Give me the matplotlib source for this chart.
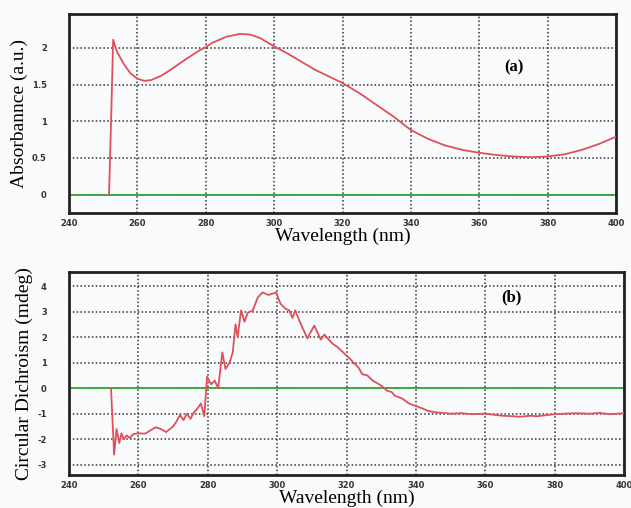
import matplotlib
matplotlib.use('Agg')
import matplotlib.pyplot as plt

# (a) absorbance spectrum
wl_abs = [251.7, 252.3, 252.9, 254.0, 256, 258, 260, 262, 264, 267, 270, 274,
          278, 280, 282, 286, 290, 293, 296, 300, 304, 308, 312, 316, 320, 325,
          330, 335, 340, 345, 350, 355, 360, 365, 370, 375, 380, 385, 390, 395, 400]
absorbance = [0.0, 1.0, 2.11, 1.95, 1.78, 1.65, 1.58, 1.55, 1.56, 1.62, 1.71, 1.84,
              1.96, 2.01, 2.07, 2.15, 2.19, 2.18, 2.13, 2.02, 1.92, 1.81, 1.70, 1.61,
              1.52, 1.38, 1.22, 1.06, 0.88, 0.76, 0.67, 0.61, 0.57, 0.54, 0.52, 0.51,
              0.52, 0.55, 0.61, 0.69, 0.79]

# (b) circular dichroism spectrum
wl_cd = [252.1, 253.0, 253.7, 254.5, 255.1, 255.8, 256.6, 257.5, 258.5, 260, 262,
         263.5, 265, 266.5, 268, 270, 271, 272, 273, 274, 275, 276, 277, 278, 279,
         279.8, 281, 282, 283, 284.2, 285.1, 286.3, 287.2, 288, 288.6, 289.6, 290.6,
         291.5, 293, 294.4, 295.8, 297.5, 299.7, 301, 302.5, 303.5, 304.4, 305.2,
         306.4, 307.2, 308.7, 310.7, 312.6, 313.6, 315.9, 317.5, 319.8, 321, 322,
         323.5, 324.5, 326, 327.5, 328.8, 330, 331.7, 333, 334, 336, 338, 340, 342,
         343.7, 346, 348, 350, 353, 356, 360, 363, 365, 368, 370, 373, 375, 378,
         380, 383, 386, 390, 393, 396, 400]
cd = [0.0, -2.6, -1.6, -2.15, -1.77, -2.0, -1.85, -1.95, -1.8, -1.77, -1.78,
      -1.65, -1.53, -1.6, -1.72, -1.5, -1.3, -1.05, -1.25, -1.0, -1.2, -0.95, -0.8,
      -0.6, -1.1, 0.45, 0.15, 0.3, 0.0, 1.4, 0.75, 1.0, 1.4, 2.5, 2.0, 3.05, 2.6,
      2.95, 3.05, 3.55, 3.75, 3.65, 3.75, 3.3, 3.1, 3.05, 2.75, 3.05, 2.65, 2.4,
      1.95, 2.45, 1.9, 2.1, 1.75, 1.6, 1.3, 1.15, 1.0, 0.8, 0.55, 0.5, 0.3, 0.2,
      0.1, -0.1, -0.15, -0.3, -0.4, -0.6, -0.7, -0.8, -0.9, -0.95, -0.97, -1.0,
      -0.98, -1.02, -1.0, -1.05, -1.08, -1.1, -1.12, -1.08, -1.1, -1.05, -1.02,
      -1.0, -0.98, -1.0, -0.97, -1.02, -0.98]

xticks = [240, 260, 280, 300, 320, 340, 360, 380, 400]
abs_yticks = [0, 0.5, 1, 1.5, 2]
abs_yticklabels = ['0', '0.5', '1', '1.5', '2']
cd_yticks = [-3, -2, -1, 0, 1, 2, 3, 4]

red = '#e0505a'
green = '#33a833'
bg = '#f9fafc'
serif = 'Liberation Serif'

fig = plt.figure(figsize=(6.31, 5.08), dpi=100, facecolor=bg)
ax1 = fig.add_axes([0.1094, 0.5807, 0.8669, 0.3917])
ax2 = fig.add_axes([0.1094, 0.0650, 0.8795, 0.3996])


def style(ax, yticks, ylabels):
    ax.set_facecolor(bg)
    ax.set_xlim(240, 400)
    ax.set_xticks(xticks)
    ax.set_xticklabels([str(t) for t in xticks], fontsize=6, fontweight='bold',
                       color='#333333')
    ax.set_yticks(yticks)
    ax.set_yticklabels(ylabels, fontsize=6, fontweight='bold', color='#333333')
    ax.tick_params(length=0, pad=4)
    ax.tick_params(axis='y', pad=16)
    ax.grid(True, color='#333333', linestyle=(0, (1, 1.5)), linewidth=1.1)
    for s in ax.spines.values():
        s.set_linewidth(2)
        s.set_color('#222222')
    ax.axhline(0, color=green, linewidth=1.3, zorder=2)
    ax.set_xlabel('Wavelength (nm)', fontsize=14, family=serif, labelpad=0)


style(ax1, abs_yticks, abs_yticklabels)
ax1.set_ylim(-0.25, 2.46)
ax1.plot(wl_abs, absorbance, color=red, linewidth=1.3, zorder=3)
ax1.set_ylabel('Absorbannce (a.u.)', fontsize=14, family=serif, labelpad=3)
ax1.text(370, 1.73, '(a)', fontsize=12, family=serif, fontweight='bold',
         ha='center', va='center')

style(ax2, cd_yticks, [str(t) for t in cd_yticks])
ax2.set_ylim(-3.4, 4.55)
ax2.plot(wl_cd, cd, color=red, linewidth=1.3, zorder=3)
ax2.set_ylabel('Circular Dichroism (mdeg)', fontsize=14, family=serif, labelpad=3)
ax2.text(367.6, 3.57, '(b)', fontsize=12, family=serif, fontweight='bold',
         ha='center', va='center')

fig.savefig('out.png', dpi=100, facecolor=bg)
